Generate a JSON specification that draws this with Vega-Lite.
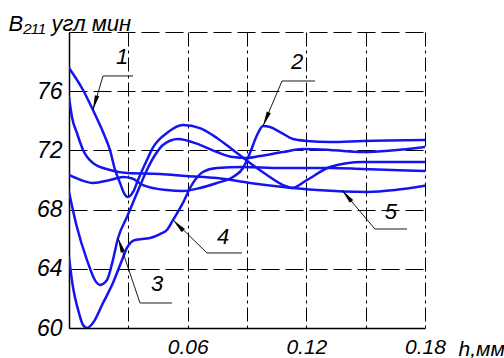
{
  "$schema": "https://vega.github.io/schema/vega-lite/v6.json",
  "width": 356,
  "height": 296,
  "autosize": {"type": "none"},
  "padding": {"left": 69, "top": 32, "right": 79, "bottom": 30},
  "background": "white",
  "config": {"view": {"stroke": null}, "font": "Liberation Sans"},
  "datasets": {
    "curves": [
      {"curve": "1", "h": 0, "B": 77.57}, {"curve": "1", "h": 0.0071, "B": 76.08}, {"curve": "1", "h": 0.0121, "B": 74.73}, {"curve": "1", "h": 0.0172, "B": 73.24}, {"curve": "1", "h": 0.0207, "B": 72.03}, {"curve": "1", "h": 0.0233, "B": 70.68}, {"curve": "1", "h": 0.0258, "B": 69.8}, {"curve": "1", "h": 0.0278, "B": 69.12}, {"curve": "1", "h": 0.0298, "B": 68.85}, {"curve": "1", "h": 0.0324, "B": 69.19}, {"curve": "1", "h": 0.0349, "B": 70.0}, {"curve": "1", "h": 0.0394, "B": 71.35}, {"curve": "1", "h": 0.0425, "B": 72.2}, {"curve": "1", "h": 0.0495, "B": 73.18}, {"curve": "1", "h": 0.0576, "B": 73.72}, {"curve": "1", "h": 0.0662, "B": 73.51}, {"curve": "1", "h": 0.0748, "B": 72.84}, {"curve": "1", "h": 0.0829, "B": 72.03}, {"curve": "1", "h": 0.0915, "B": 71.15}, {"curve": "1", "h": 0.1001, "B": 70.34}, {"curve": "1", "h": 0.1082, "B": 69.66}, {"curve": "1", "h": 0.1127, "B": 69.46}, {"curve": "1", "h": 0.1203, "B": 70.0}, {"curve": "1", "h": 0.132, "B": 70.88}, {"curve": "1", "h": 0.1486, "B": 71.22}, {"curve": "1", "h": 0.18, "B": 71.22},
      {"curve": "2", "h": 0, "B": 70.34}, {"curve": "2", "h": 0.006, "B": 70.0}, {"curve": "2", "h": 0.0121, "B": 69.8}, {"curve": "2", "h": 0.0207, "B": 70.0}, {"curve": "2", "h": 0.0273, "B": 70.2}, {"curve": "2", "h": 0.032, "B": 70.1}, {"curve": "2", "h": 0.0374, "B": 69.66}, {"curve": "2", "h": 0.0495, "B": 69.32}, {"curve": "2", "h": 0.0576, "B": 69.26}, {"curve": "2", "h": 0.0662, "B": 69.46}, {"curve": "2", "h": 0.0748, "B": 69.8}, {"curve": "2", "h": 0.0829, "B": 70.2}, {"curve": "2", "h": 0.088, "B": 70.81}, {"curve": "2", "h": 0.0915, "B": 71.82}, {"curve": "2", "h": 0.0951, "B": 73.04}, {"curve": "2", "h": 0.0981, "B": 73.65}, {"curve": "2", "h": 0.1016, "B": 73.58}, {"curve": "2", "h": 0.1067, "B": 73.24}, {"curve": "2", "h": 0.1133, "B": 72.77}, {"curve": "2", "h": 0.1203, "B": 72.64}, {"curve": "2", "h": 0.132, "B": 72.57}, {"curve": "2", "h": 0.1486, "B": 72.64}, {"curve": "2", "h": 0.18, "B": 72.7},
      {"curve": "3", "h": 0, "B": 69.19}, {"curve": "3", "h": 0.004, "B": 66.82}, {"curve": "3", "h": 0.0091, "B": 64.59}, {"curve": "3", "h": 0.0131, "B": 63.24}, {"curve": "3", "h": 0.0157, "B": 62.91}, {"curve": "3", "h": 0.0192, "B": 63.24}, {"curve": "3", "h": 0.0222, "B": 64.59}, {"curve": "3", "h": 0.0248, "B": 66.08}, {"curve": "3", "h": 0.0293, "B": 67.5}, {"curve": "3", "h": 0.0344, "B": 69.12}, {"curve": "3", "h": 0.0394, "B": 70.68}, {"curve": "3", "h": 0.0435, "B": 71.69}, {"curve": "3", "h": 0.0475, "B": 72.37}, {"curve": "3", "h": 0.0551, "B": 72.77}, {"curve": "3", "h": 0.0662, "B": 72.37}, {"curve": "3", "h": 0.0748, "B": 71.89}, {"curve": "3", "h": 0.0829, "B": 71.55}, {"curve": "3", "h": 0.09, "B": 71.49}, {"curve": "3", "h": 0.0966, "B": 71.62}, {"curve": "3", "h": 0.1082, "B": 71.89}, {"curve": "3", "h": 0.1183, "B": 72.09}, {"curve": "3", "h": 0.132, "B": 72.03}, {"curve": "3", "h": 0.1486, "B": 71.89}, {"curve": "3", "h": 0.18, "B": 72.23},
      {"curve": "4", "h": 0, "B": 64.8}, {"curve": "4", "h": 0.002, "B": 62.77}, {"curve": "4", "h": 0.0046, "B": 61.22}, {"curve": "4", "h": 0.0071, "B": 60.2}, {"curve": "4", "h": 0.0091, "B": 60.0}, {"curve": "4", "h": 0.0121, "B": 60.34}, {"curve": "4", "h": 0.0172, "B": 61.69}, {"curve": "4", "h": 0.0222, "B": 63.04}, {"curve": "4", "h": 0.0268, "B": 64.59}, {"curve": "4", "h": 0.0293, "B": 65.41}, {"curve": "4", "h": 0.0334, "B": 65.95}, {"curve": "4", "h": 0.041, "B": 66.08}, {"curve": "4", "h": 0.046, "B": 66.35}, {"curve": "4", "h": 0.0495, "B": 66.62}, {"curve": "4", "h": 0.0526, "B": 67.3}, {"curve": "4", "h": 0.0576, "B": 68.45}, {"curve": "4", "h": 0.0612, "B": 69.46}, {"curve": "4", "h": 0.0677, "B": 70.54}, {"curve": "4", "h": 0.0748, "B": 70.81}, {"curve": "4", "h": 0.088, "B": 70.88}, {"curve": "4", "h": 0.1067, "B": 70.81}, {"curve": "4", "h": 0.132, "B": 70.81}, {"curve": "4", "h": 0.1486, "B": 70.74}, {"curve": "4", "h": 0.18, "B": 70.61},
      {"curve": "5", "h": 0, "B": 75.61}, {"curve": "5", "h": 0.0015, "B": 74.26}, {"curve": "5", "h": 0.004, "B": 73.18}, {"curve": "5", "h": 0.0071, "B": 72.03}, {"curve": "5", "h": 0.0121, "B": 71.15}, {"curve": "5", "h": 0.0207, "B": 70.68}, {"curve": "5", "h": 0.0293, "B": 70.47}, {"curve": "5", "h": 0.046, "B": 70.41}, {"curve": "5", "h": 0.0597, "B": 70.27}, {"curve": "5", "h": 0.0748, "B": 70.14}, {"curve": "5", "h": 0.0915, "B": 69.8}, {"curve": "5", "h": 0.1082, "B": 69.53}, {"curve": "5", "h": 0.1254, "B": 69.32}, {"curve": "5", "h": 0.1507, "B": 69.19}, {"curve": "5", "h": 0.1648, "B": 69.32}, {"curve": "5", "h": 0.18, "B": 69.61}
    ],
    "leaders": [
      {"id": "1", "seq": 0, "h": 0.0121, "B": 74.73}, {"id": "1", "seq": 1, "h": 0.0172, "B": 77.03}, {"id": "1", "seq": 2, "h": 0.0324, "B": 77.03},
      {"id": "2", "seq": 0, "h": 0.0981, "B": 73.65}, {"id": "2", "seq": 1, "h": 0.1077, "B": 76.69}, {"id": "2", "seq": 2, "h": 0.1244, "B": 76.69},
      {"id": "3", "seq": 0, "h": 0.0248, "B": 66.08}, {"id": "3", "seq": 1, "h": 0.0359, "B": 61.69}, {"id": "3", "seq": 2, "h": 0.0521, "B": 61.69},
      {"id": "4", "seq": 0, "h": 0.0526, "B": 67.3}, {"id": "4", "seq": 1, "h": 0.0698, "B": 65.07}, {"id": "4", "seq": 2, "h": 0.0875, "B": 65.07},
      {"id": "5", "seq": 0, "h": 0.138, "B": 69.32}, {"id": "5", "seq": 1, "h": 0.1547, "B": 66.69}, {"id": "5", "seq": 2, "h": 0.1709, "B": 66.69}
    ],
    "tips": [
      {"id": "1", "h": 0.0121, "B": 74.73},
      {"id": "2", "h": 0.0981, "B": 73.65},
      {"id": "3", "h": 0.0248, "B": 66.08},
      {"id": "4", "h": 0.0526, "B": 67.3},
      {"id": "5", "h": 0.138, "B": 69.32}
    ],
    "labels": [
      {"text": "1", "h": 0.0268, "B": 78.31},
      {"text": "2", "h": 0.1153, "B": 77.97},
      {"text": "3", "h": 0.0445, "B": 62.97},
      {"text": "4", "h": 0.0779, "B": 66.15},
      {"text": "5", "h": 0.1628, "B": 67.84}
    ]
  },
  "layer": [
    {
      "data": {"name": "curves"},
      "mark": {"type": "line", "interpolate": "monotone", "strokeWidth": 2.5, "color": "#1414f0", "strokeCap": "round", "clip": true},
      "encoding": {
        "x": {
          "field": "h", "type": "quantitative",
          "scale": {"domain": [0, 0.18], "nice": false, "zero": false},
          "axis": {
            "values": [0.03, 0.06, 0.09, 0.12, 0.15, 0.18],
            "labelExpr": "indexof(['0.06', '0.12', '0.18'], format(datum.value, '.2f')) >= 0 ? format(datum.value, '.2f') : ''",
            "labelFlush": false,
            "labelOverlap": false,
            "labelFont": "Liberation Sans", "labelFontSize": 21, "labelFontStyle": "italic", "labelColor": "black", "labelPadding": 8,
            "ticks": false,
            "domainColor": "black", "domainWidth": 1.5,
            "grid": true, "gridColor": "black", "gridDash": [14, 4, 3, 4], "gridWidth": 1, "gridOpacity": 1,
            "title": "h,мм", "titleX": 389, "titleY": 27, "titleAlign": "left", "titleBaseline": "alphabetic", "titleAnchor": null,
            "titleFont": "Liberation Sans", "titleFontSize": 21, "titleFontStyle": "italic", "titleFontWeight": "normal", "titleColor": "black"
          }
        },
        "y": {
          "field": "B", "type": "quantitative",
          "scale": {"domain": [60, 80], "nice": false, "zero": false},
          "axis": {
            "values": [60, 64, 68, 72, 76, 80],
            "labelExpr": "datum.value == 80 ? '' : datum.label",
            "labelFlush": false,
            "labelOverlap": false,
            "labelFont": "Liberation Sans", "labelFontSize": 23, "labelFontStyle": "italic", "labelColor": "black", "labelPadding": 7,
            "ticks": false,
            "domainColor": "black", "domainWidth": 1.5,
            "grid": true, "gridColor": "black", "gridDash": [18, 6], "gridWidth": 1, "gridOpacity": 1,
            "title": "B₂₁₁ угл мин", "titleAngle": 0, "titleX": -61, "titleY": -2, "titleAlign": "left", "titleBaseline": "alphabetic", "titleAnchor": null,
            "titleFont": "Liberation Sans", "titleFontSize": 22, "titleFontStyle": "italic", "titleFontWeight": "normal", "titleColor": "black"
          }
        },
        "detail": {"field": "curve", "type": "nominal"}
      }
    },
    {
      "data": {"name": "leaders"},
      "mark": {"type": "line", "color": "black", "strokeWidth": 0.9},
      "encoding": {
        "x": {"field": "h", "type": "quantitative"},
        "y": {"field": "B", "type": "quantitative"},
        "detail": {"field": "id", "type": "nominal"},
        "order": {"field": "seq", "type": "quantitative"}
      }
    },
    {
      "data": {"name": "tips"},
      "transform": [{"filter": "datum.id == '1'"}],
      "mark": {"type": "point", "shape": "M0,0L0.3,2L-0.3,2Z", "size": 220, "filled": true, "color": "black", "opacity": 1, "angle": 196},
      "encoding": {"x": {"field": "h", "type": "quantitative"}, "y": {"field": "B", "type": "quantitative"}}
    },
    {
      "data": {"name": "tips"},
      "transform": [{"filter": "datum.id == '2'"}],
      "mark": {"type": "point", "shape": "M0,0L0.3,2L-0.3,2Z", "size": 220, "filled": true, "color": "black", "opacity": 1, "angle": 203},
      "encoding": {"x": {"field": "h", "type": "quantitative"}, "y": {"field": "B", "type": "quantitative"}}
    },
    {
      "data": {"name": "tips"},
      "transform": [{"filter": "datum.id == '3'"}],
      "mark": {"type": "point", "shape": "M0,0L0.3,2L-0.3,2Z", "size": 220, "filled": true, "color": "black", "opacity": 1, "angle": 341},
      "encoding": {"x": {"field": "h", "type": "quantitative"}, "y": {"field": "B", "type": "quantitative"}}
    },
    {
      "data": {"name": "tips"},
      "transform": [{"filter": "datum.id == '4'"}],
      "mark": {"type": "point", "shape": "M0,0L0.3,2L-0.3,2Z", "size": 220, "filled": true, "color": "black", "opacity": 1, "angle": 316},
      "encoding": {"x": {"field": "h", "type": "quantitative"}, "y": {"field": "B", "type": "quantitative"}}
    },
    {
      "data": {"name": "tips"},
      "transform": [{"filter": "datum.id == '5'"}],
      "mark": {"type": "point", "shape": "M0,0L0.3,2L-0.3,2Z", "size": 220, "filled": true, "color": "black", "opacity": 1, "angle": 320},
      "encoding": {"x": {"field": "h", "type": "quantitative"}, "y": {"field": "B", "type": "quantitative"}}
    },
    {
      "data": {"name": "labels"},
      "mark": {"type": "text", "font": "Liberation Sans", "fontSize": 22, "fontStyle": "italic", "color": "black", "align": "center", "baseline": "middle"},
      "encoding": {
        "x": {"field": "h", "type": "quantitative"},
        "y": {"field": "B", "type": "quantitative"},
        "text": {"field": "text", "type": "nominal"}
      }
    }
  ]
}
